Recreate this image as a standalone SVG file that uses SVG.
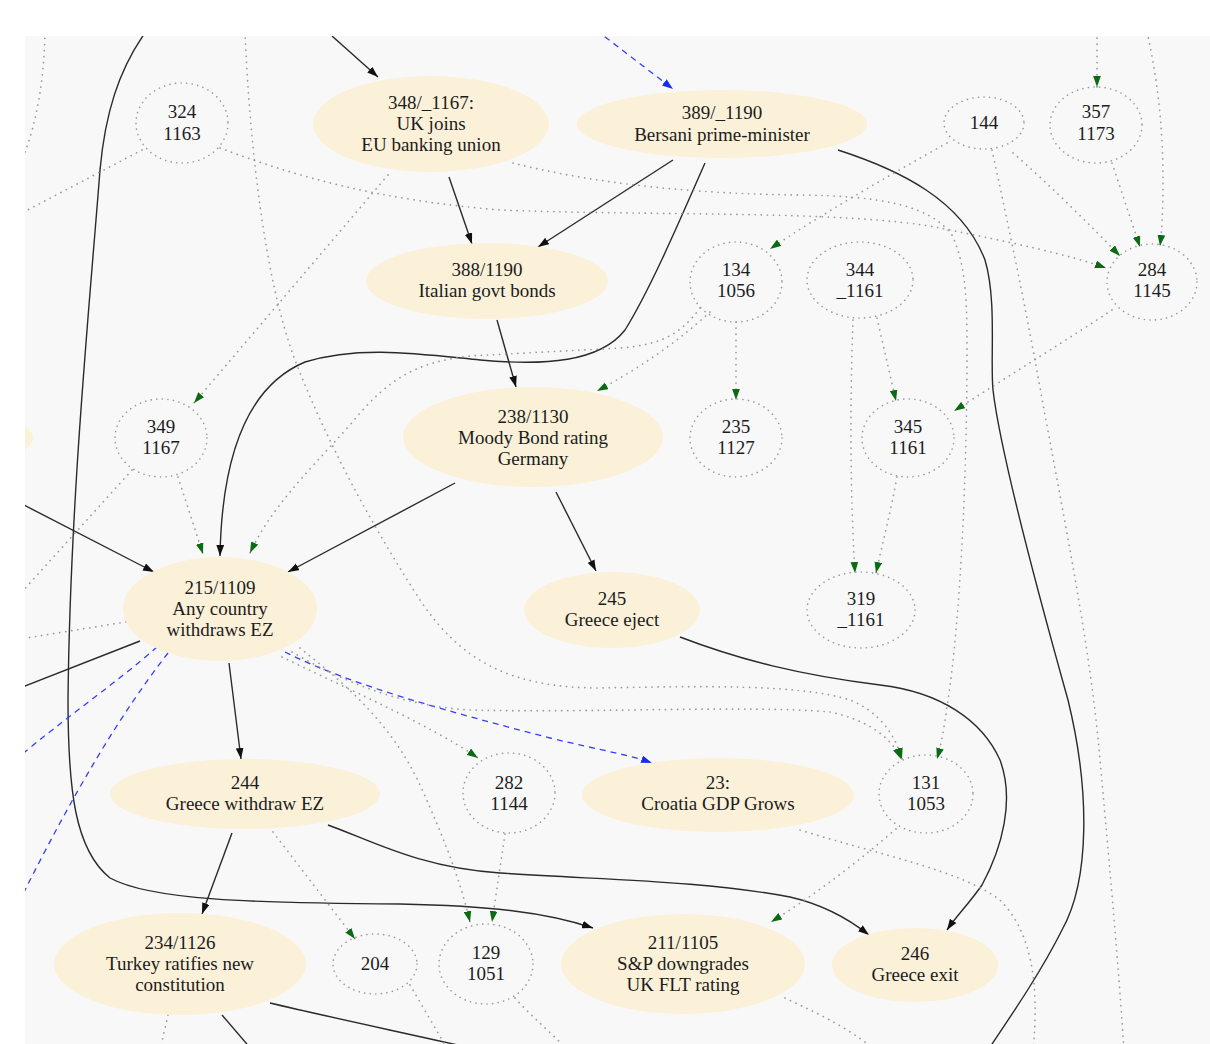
<svg xmlns="http://www.w3.org/2000/svg" width="1210" height="1044" viewBox="0 0 1210 1044">
  <defs>
    <clipPath id="canvas">
      <rect x="25" y="36" width="1185" height="1008"/>
    </clipPath>
    <marker id="arrBlack" viewBox="0 0 10 7" refX="10" refY="3.5" markerWidth="11" markerHeight="8" markerUnits="userSpaceOnUse" orient="auto">
      <path d="M0,0 L10,3.5 L0,7 z" fill="#111"/>
    </marker>
    <marker id="arrGreen" viewBox="0 0 10 7" refX="10" refY="3.5" markerWidth="11" markerHeight="8" markerUnits="userSpaceOnUse" orient="auto">
      <path d="M0,0 L10,3.5 L0,7 z" fill="#0b6a12"/>
    </marker>
    <marker id="arrBlue" viewBox="0 0 10 7" refX="10" refY="3.5" markerWidth="11" markerHeight="8" markerUnits="userSpaceOnUse" orient="auto">
      <path d="M0,0 L10,3.5 L0,7 z" fill="#1a2cf0"/>
    </marker>
    <style>
      .bg { fill: #f8f8f8; }
      .ev { fill: #fbf1d9; stroke: none; }
      .aux { fill: none; stroke: #9a9a9a; stroke-width: 1.6; stroke-dasharray: 0.1 5.5; stroke-linecap: round; }
      .lbl { font-family: 'Liberation Serif', 'DejaVu Serif', 'Times New Roman', serif; font-size: 19px; fill: #1c1c1c; text-anchor: middle; }
      .solid { fill: none; stroke: #2a2a2a; stroke-width: 1.4; }
      .solid.arr { marker-end: url(#arrBlack); }
      .blue { fill: none; stroke: #3340f0; stroke-width: 1.3; stroke-dasharray: 6 5; }
      .blue.arr { marker-end: url(#arrBlue); }
      .dot { fill: none; stroke: #999; stroke-width: 1.7; stroke-dasharray: 0.1 6; stroke-linecap: round; }
      .dot.arr { marker-end: url(#arrGreen); }
    </style>
  </defs>

  <rect x="0" y="0" width="1210" height="1044" fill="#ffffff"/>
  <rect class="bg" x="25" y="36" width="1185" height="1008"/>

  <g clip-path="url(#canvas)">
    <!-- connectors -->
    <g id="edges">
      <!-- causal links (solid) -->
      <path class="solid arr" d="M332,36 L378,77"/>
      <path class="solid arr" d="M449,177 L472,244"/>
      <path class="solid arr" d="M673,160 L538,247"/>
      <path class="solid arr" d="M705,163 C 680,220 650,290 625,330 C 600,362 545,366 480,360 C 420,354 360,345 305,362 C 250,385 222,450 220,556"/>
      <path class="solid arr" d="M497,320 L516,387"/>
      <path class="solid arr" d="M455,483 L288,572"/>
      <path class="solid arr" d="M556,492 L596,571"/>
      <path class="solid arr" d="M20,503 L154,572"/>
      <path class="solid" d="M140,641 L20,688"/>
      <path class="solid arr" d="M229,663 L241,759"/>
      <path class="solid arr" d="M232,833 L202,914"/>
      <path class="solid arr" d="M147,30 C 118,70 105,115 100,170 C 90,300 70,500 68,700 C 68,790 75,850 110,878 C 150,900 250,903 400,904 C 490,906 545,912 593,928"/>
      <path class="solid arr" d="M328,825 C 370,840 420,868 500,873 C 600,880 700,880 790,897 C 825,905 850,920 869,935"/>
      <path class="solid arr" d="M680,637 C 740,660 800,675 880,685 C 940,692 982,720 1000,760 C 1015,800 1002,848 982,885 C 968,905 957,915 947,930"/>
      <path class="solid" d="M838,150 C 900,170 962,200 985,260 C 997,300 990,360 993,390 C 1000,450 1040,600 1068,700 C 1090,790 1090,880 1062,930 C 1042,970 1015,1010 988,1050"/>
      <path class="solid" d="M270,1003 C 320,1015 400,1032 480,1050"/>
      <path class="solid" d="M222,1015 L252,1050"/>

      <!-- dashed links -->
      <path class="blue arr" d="M596,30 L673,89"/>
      <path class="blue arr" d="M285,652 C 350,685 450,712 550,738 C 600,750 630,755 652,763"/>
      <path class="blue" d="M157,647 C 120,680 60,722 20,756"/>
      <path class="blue" d="M168,653 C 120,715 75,790 20,900"/>

      <!-- auxiliary links (dotted) -->
      <path class="dot" d="M45,32 C 44,80 37,120 25,152"/>
      <path class="dot" d="M142,150 L20,214"/>
      <path class="dot arr" d="M220,148 C 300,178 380,200 500,210 C 650,216 850,210 940,228 C 1010,242 1070,255 1106,268"/>
      <path class="dot arr" d="M513,163 C 600,185 700,194 800,195 C 880,196 930,205 952,235 C 966,265 967,300 967,350 C 967,480 960,620 948,700 C 944,730 941,745 937,759"/>
      <path class="dot arr" d="M947,143 C 890,175 820,215 770,249"/>
      <path class="dot" d="M992,150 C 1005,210 1020,280 1035,360 C 1060,500 1090,640 1100,760 C 1110,870 1118,960 1124,1050"/>
      <path class="dot arr" d="M1013,153 C 1050,185 1090,225 1120,256"/>
      <path class="dot arr" d="M1112,163 L1140,247"/>
      <path class="dot arr" d="M1147,32 C 1158,80 1163,130 1163,180 C 1163,210 1162,230 1160,246"/>
      <path class="dot arr" d="M1097,32 L1097,87"/>
      <path class="dot arr" d="M1112,310 C 1070,338 1010,375 954,411"/>
      <path class="dot arr" d="M853,320 C 850,400 850,490 855,573"/>
      <path class="dot arr" d="M877,318 L896,401"/>
      <path class="dot arr" d="M897,477 C 890,515 882,545 876,573"/>
      <path class="dot arr" d="M710,312 C 680,340 640,368 597,391"/>
      <path class="dot arr" d="M700,308 C 680,335 660,345 620,348 L470,356 C 420,362 390,375 350,425 C 300,480 270,510 250,553"/>
      <path class="dot arr" d="M736,322 L736,400"/>
      <path class="dot arr" d="M388,175 L194,403"/>
      <path class="dot arr" d="M178,477 L203,554"/>
      <path class="dot" d="M132,470 L20,594"/>
      <path class="dot" d="M126,622 L20,639"/>
      <path class="dot arr" d="M245,32 C 250,150 265,280 295,360 C 330,450 375,530 420,600 C 460,660 510,688 600,688 C 700,686 800,684 850,700 C 880,712 895,735 902,759"/>
      <path class="dot arr" d="M292,652 C 340,680 400,706 470,710 C 600,713 750,705 830,712 C 868,720 892,738 901,759"/>
      <path class="dot arr" d="M282,657 C 350,690 430,725 478,758"/>
      <path class="dot arr" d="M300,648 C 340,680 390,720 420,785 C 445,840 460,880 470,922"/>
      <path class="dot arr" d="M505,834 L492,922"/>
      <path class="dot arr" d="M273,832 L355,939"/>
      <path class="dot arr" d="M896,829 C 860,860 815,895 771,922"/>
      <path class="dot" d="M800,830 C 880,855 960,870 1000,900 C 1030,930 1040,980 1033,1050"/>
      <path class="dot" d="M785,998 C 810,1010 845,1025 875,1050"/>
      <path class="dot" d="M168,1015 L160,1050"/>
      <path class="dot" d="M410,985 L448,1050"/>
      <path class="dot" d="M515,998 C 530,1015 548,1030 568,1050"/>
    </g>

    <!-- events -->
    <g id="n_left"><ellipse class="ev" cx="-70" cy="438" rx="103" ry="30"/></g>

    <g id="n348"><ellipse class="ev" cx="431" cy="124" rx="118" ry="48"/>
      <text class="lbl" x="431" y="109">348/_1167:</text>
      <text class="lbl" x="431" y="130">UK joins</text>
      <text class="lbl" x="431" y="151">EU banking union</text></g>

    <g id="n389"><ellipse class="ev" cx="722" cy="124" rx="145" ry="34"/>
      <text class="lbl" x="722" y="119">389/_1190</text>
      <text class="lbl" x="722" y="141">Bersani prime-minister</text></g>

    <g id="n324"><ellipse class="aux" cx="182" cy="123" rx="46" ry="40"/>
      <text class="lbl" x="182" y="118">324</text>
      <text class="lbl" x="182" y="140">1163</text></g>

    <g id="n144"><ellipse class="aux" cx="984" cy="123" rx="40" ry="26"/>
      <text class="lbl" x="984" y="129">144</text></g>

    <g id="n357"><ellipse class="aux" cx="1096" cy="125" rx="46" ry="38"/>
      <text class="lbl" x="1096" y="118">357</text>
      <text class="lbl" x="1096" y="140">1173</text></g>

    <g id="n284"><ellipse class="aux" cx="1152" cy="282" rx="45" ry="38"/>
      <text class="lbl" x="1152" y="276">284</text>
      <text class="lbl" x="1152" y="297">1145</text></g>

    <g id="n344"><ellipse class="aux" cx="860" cy="280" rx="53" ry="38"/>
      <text class="lbl" x="860" y="276">344</text>
      <text class="lbl" x="860" y="297">_1161</text></g>

    <g id="n134"><ellipse class="aux" cx="736" cy="282" rx="46" ry="40"/>
      <text class="lbl" x="736" y="276">134</text>
      <text class="lbl" x="736" y="297">1056</text></g>

    <g id="n388"><ellipse class="ev" cx="487" cy="281" rx="121" ry="38"/>
      <text class="lbl" x="487" y="276">388/1190</text>
      <text class="lbl" x="487" y="297">Italian govt bonds</text></g>

    <g id="n238"><ellipse class="ev" cx="533" cy="437" rx="130" ry="50"/>
      <text class="lbl" x="533" y="423">238/1130</text>
      <text class="lbl" x="533" y="444">Moody Bond rating</text>
      <text class="lbl" x="533" y="465">Germany</text></g>

    <g id="n235"><ellipse class="aux" cx="736" cy="438" rx="46" ry="39"/>
      <text class="lbl" x="736" y="433">235</text>
      <text class="lbl" x="736" y="454">1127</text></g>

    <g id="n345"><ellipse class="aux" cx="908" cy="438" rx="46" ry="39"/>
      <text class="lbl" x="908" y="433">345</text>
      <text class="lbl" x="908" y="454">1161</text></g>

    <g id="n349"><ellipse class="aux" cx="161" cy="438" rx="46" ry="39"/>
      <text class="lbl" x="161" y="433">349</text>
      <text class="lbl" x="161" y="454">1167</text></g>

    <g id="n215"><ellipse class="ev" cx="220" cy="609" rx="97" ry="52"/>
      <text class="lbl" x="220" y="594">215/1109</text>
      <text class="lbl" x="220" y="615">Any country</text>
      <text class="lbl" x="220" y="636">withdraws EZ</text></g>

    <g id="n245"><ellipse class="ev" cx="612" cy="610" rx="88" ry="38"/>
      <text class="lbl" x="612" y="605">245</text>
      <text class="lbl" x="612" y="626">Greece eject</text></g>

    <g id="n319"><ellipse class="aux" cx="861" cy="610" rx="54" ry="38"/>
      <text class="lbl" x="861" y="605">319</text>
      <text class="lbl" x="861" y="626">_1161</text></g>

    <g id="n244"><ellipse class="ev" cx="245" cy="794" rx="135" ry="35"/>
      <text class="lbl" x="245" y="789">244</text>
      <text class="lbl" x="245" y="810">Greece withdraw EZ</text></g>

    <g id="n282"><ellipse class="aux" cx="509" cy="793" rx="46" ry="40"/>
      <text class="lbl" x="509" y="789">282</text>
      <text class="lbl" x="509" y="810">1144</text></g>

    <g id="n23"><ellipse class="ev" cx="718" cy="795" rx="136" ry="37"/>
      <text class="lbl" x="718" y="789">23:</text>
      <text class="lbl" x="718" y="810">Croatia GDP Grows</text></g>

    <g id="n131"><ellipse class="aux" cx="926" cy="794" rx="47" ry="39"/>
      <text class="lbl" x="926" y="789">131</text>
      <text class="lbl" x="926" y="810">1053</text></g>

    <g id="n234"><ellipse class="ev" cx="180" cy="964" rx="126" ry="51"/>
      <text class="lbl" x="180" y="949">234/1126</text>
      <text class="lbl" x="180" y="970">Turkey ratifies new</text>
      <text class="lbl" x="180" y="991">constitution</text></g>

    <g id="n204"><ellipse class="aux" cx="375" cy="964" rx="42" ry="30"/>
      <text class="lbl" x="375" y="970">204</text></g>

    <g id="n129"><ellipse class="aux" cx="486" cy="964" rx="47" ry="40"/>
      <text class="lbl" x="486" y="959">129</text>
      <text class="lbl" x="486" y="980">1051</text></g>

    <g id="n211"><ellipse class="ev" cx="683" cy="964" rx="122" ry="50"/>
      <text class="lbl" x="683" y="949">211/1105</text>
      <text class="lbl" x="683" y="970">S&amp;P downgrades</text>
      <text class="lbl" x="683" y="991">UK FLT rating</text></g>

    <g id="n246"><ellipse class="ev" cx="915" cy="965" rx="83" ry="37"/>
      <text class="lbl" x="915" y="960">246</text>
      <text class="lbl" x="915" y="981">Greece exit</text></g>
  </g>
</svg>
